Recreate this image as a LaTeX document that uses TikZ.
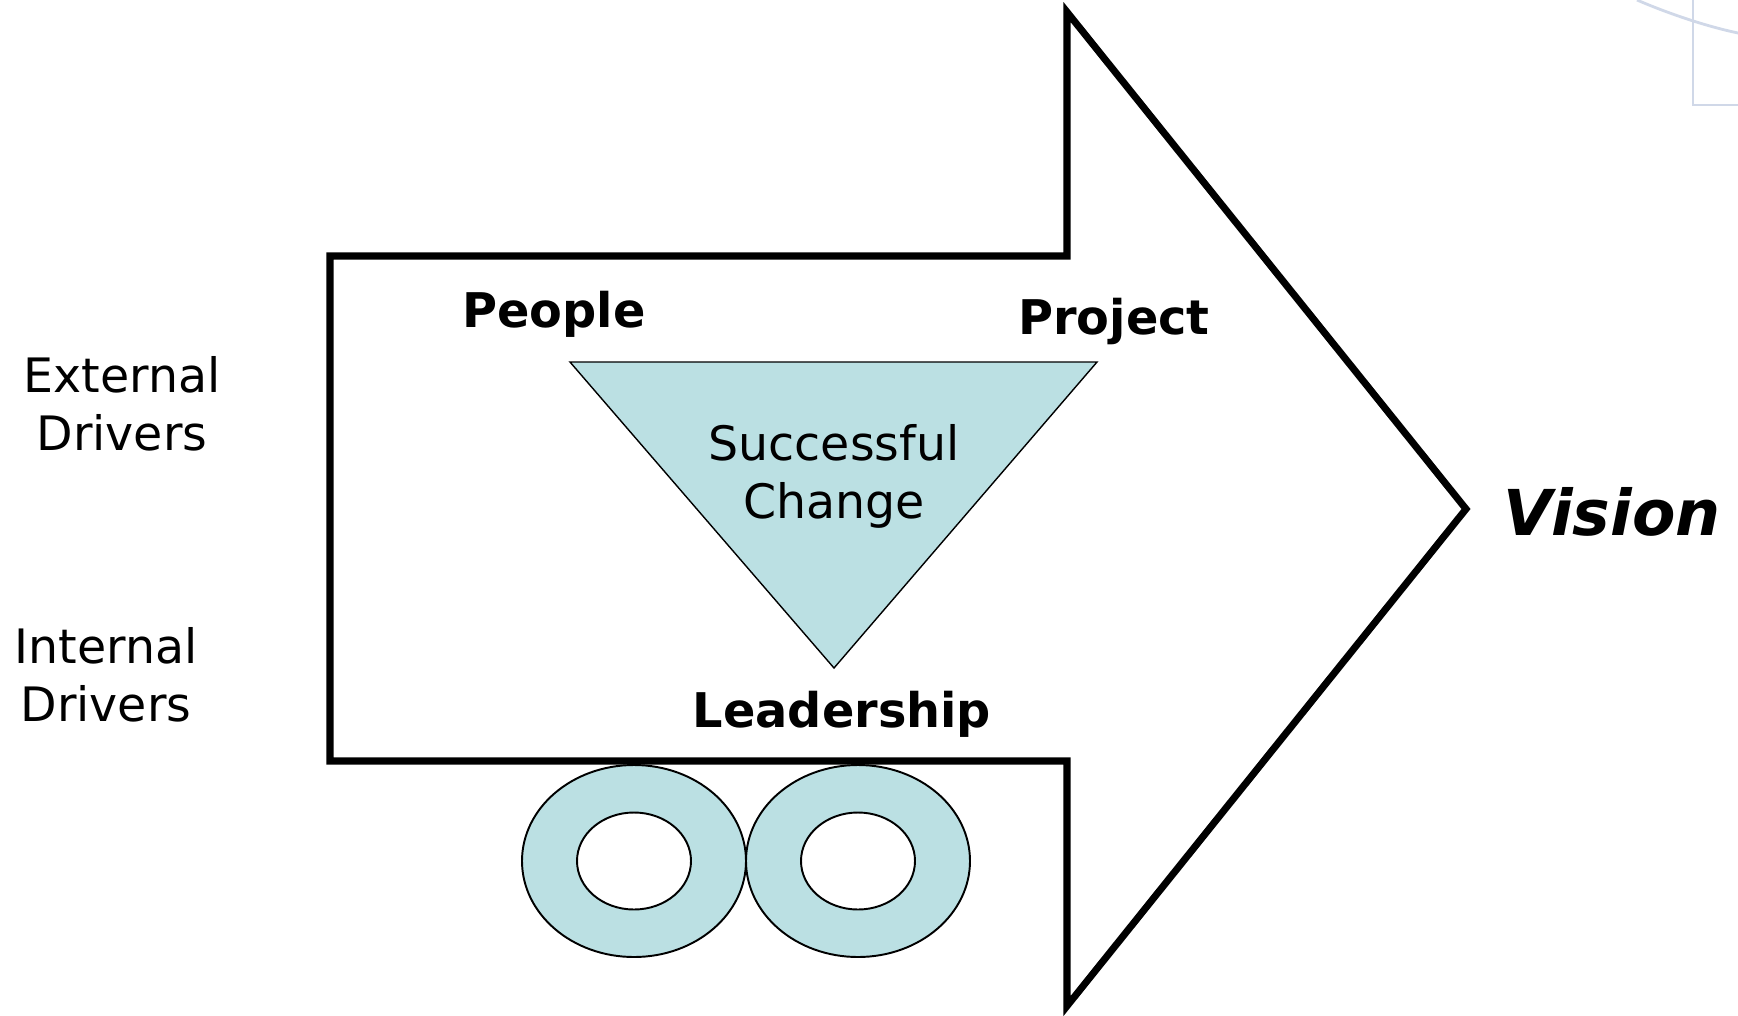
\documentclass[tikz,border=0pt]{standalone}
\usepackage{fontspec}
\setmainfont{DejaVu Sans}
\usepackage{xcolor}
\usepackage{tikz}
\usetikzlibrary{positioning}
\definecolor{myblue}{RGB}{187,224,227}
\definecolor{mylogo}{RGB}{208,216,232}
\definecolor{mydark}{RGB}{0,0,0}
\tikzset{
  arrowbody/.style={draw=mydark, line width=4pt, miter limit=20},
  tri/.style={draw=mydark, fill=myblue, line width=0.8pt},
  ring/.style={draw=mydark, fill=myblue, line width=1.1pt, even odd rule},
  drvtext/.style={align=center, inner sep=0pt, font=\fontsize{27}{33}\selectfont},
  keytext/.style={anchor=base, inner sep=0pt, font=\fontsize{27.2}{32}\selectfont\bfseries},
  logoline/.style={draw=mylogo, line width=1.6pt}
}

\begin{document}
\begin{tikzpicture}[x=0.02cm, y=-0.02cm]
  \useasboundingbox (0,0) rectangle (1738,1015);

  % big arrow
  \draw[arrowbody] (330,256) -- (1067,256) -- (1067,12) -- (1466,509)
    -- (1067,1006) -- (1067,761) -- (330,761) -- cycle;

  % faint logo corner
  \draw[logoline] (1693,0) -- (1693,105) -- (1738,105);
  \draw[logoline] (1637,0) .. controls (1660,10) and (1700,25) .. (1738,33);

  % triangle in the middle
  \coordinate (tl) at (570,362);
  \coordinate (tr) at (1097,362);
  \coordinate (tb) at (834,668);
  \draw[tri] (tl) -- (tr) -- (tb) -- cycle;
  \node[drvtext] (change) at (834,476) {Successful\\Change};

  % corner labels
  \node[keytext] (people) at (554,327) {People};
  \node[keytext] (project) at (1114,334) {Project};
  \node[keytext] (leader) at (842,727) {Leadership};
  \node[anchor=base, inner sep=0pt, font=\fontsize{36}{40}\selectfont\bfseries\itshape]
    (vision) at (1612,535) {Vision};

  % drivers on the left
  \node[drvtext] (extdrv) at (122,404) {External\\Drivers};
  \node[drvtext] (intdrv) at (106,675) {Internal\\Drivers};

  % wheels
  \foreach \cx/\nm in {634/lwheel, 858/rwheel} {
    \coordinate (\nm) at (\cx,861);
    \draw[ring] (\nm) ellipse [x radius=112, y radius=96]
                (\nm) ellipse [x radius=57, y radius=48.5];
  }
\end{tikzpicture}
\end{document}
